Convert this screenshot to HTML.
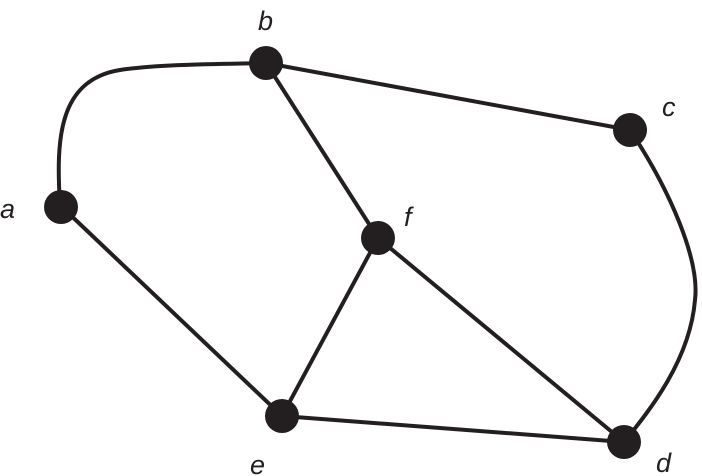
<!DOCTYPE html>
<html><head><style>
html,body{margin:0;padding:0;background:#fff;}
svg{display:block;}
text{font-family:"Liberation Sans",sans-serif;font-style:italic;font-size:27px;fill:#231f20;}
</style></head><body>
<svg width="702" height="476" viewBox="0 0 702 476" xmlns="http://www.w3.org/2000/svg">
<g stroke="#231f20" stroke-width="4" fill="none">
<path d="M60 205 C56 140 58 80 120 70 C160 64 220 64 266 63"/>
<path d="M266 63 L630 130"/>
<path d="M630 130 C670 190 700 260 695 300 C690 360 650 410 624 442"/>
<path d="M266 63 L378 238"/>
<path d="M62 207 L282 416"/>
<path d="M378 238 L282 416"/>
<path d="M378 238 L624 442"/>
<path d="M282 416 L624 442"/>
</g>
<g fill="#231f20">
<circle cx="61" cy="207" r="17"/>
<circle cx="266" cy="63" r="17"/>
<circle cx="630" cy="130" r="17"/>
<circle cx="378" cy="238" r="17"/>
<circle cx="282" cy="416" r="17"/>
<circle cx="624" cy="442" r="17"/>
</g>
<text x="0" y="218">a</text>
<text x="258" y="30">b</text>
<text x="662" y="116">c</text>
<text x="404" y="226">f</text>
<text x="250" y="474">e</text>
<text x="656" y="472">d</text>
</svg>
</body></html>
